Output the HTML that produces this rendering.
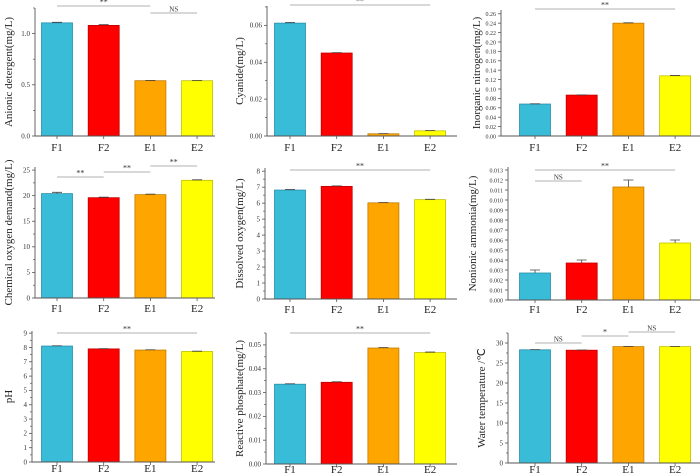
<!DOCTYPE html>
<html><head><meta charset="utf-8">
<style>
html,body{margin:0;padding:0;background:#fff;}
svg{display:block;font-family:"Liberation Serif",serif;}
</style></head>
<body>
<svg id="chart" width="700" height="474" viewBox="0 0 700 474" xmlns="http://www.w3.org/2000/svg"></svg>
<script>
const categories = ["F1","F2","E1","E2"];
const barColors = ["#38bcd8","#ff0000","#ffa500","#ffff00"];
const borderColors = ["#2a8fa8","#c00000","#c07c00","#c0c000"];

const anionicValues = [1.105, 1.08, 0.54, 0.54];
const anionicErrors = [0.005, 0.008, 0.003, 0.003];
const anionicTicks = ["0.0","0.5","1.0"];

const cyanideValues = [0.0612, 0.0450, 0.0012, 0.0028];
const cyanideErrors = [0.0004, 0.0002, 0.0001, 0.0002];
const cyanideTicks = ["0.00","0.02","0.04","0.06"];

const nitrogenValues = [0.068, 0.087, 0.240, 0.128];
const nitrogenErrors = [0.0005, 0.0005, 0.0008, 0.0008];
const nitrogenTicks = ["0.00","0.02","0.04","0.06","0.08","0.10","0.12","0.14","0.16","0.18","0.20","0.22","0.24","0.26"];

const codValues = [20.4, 19.6, 20.2, 23.0];
const codErrors = [0.25, 0.1, 0.1, 0.1];
const codTicks = ["0","5","10","15","20","25"];

const doValues = [6.82, 7.05, 6.02, 6.22];
const doErrors = [0.03, 0.03, 0.02, 0.02];
const doTicks = ["0","1","2","3","4","5","6","7","8"];

const ammoniaValues = [0.0027, 0.0037, 0.0113, 0.0057];
const ammoniaErrors = [0.0003, 0.0003, 0.0007, 0.0003];
const ammoniaTicks = ["0.000","0.001","0.002","0.003","0.004","0.005","0.006","0.007","0.008","0.009","0.010","0.011","0.012","0.013"];

const phValues = [8.1, 7.9, 7.82, 7.72];
const phErrors = [0.02, 0.02, 0.02, 0.02];
const phTicks = ["0","1","2","3","4","5","6","7","8","9"];

const phosphateValues = [0.0335, 0.0343, 0.0487, 0.0468];
const phosphateErrors = [0.0002, 0.0002, 0.0002, 0.0002];
const phosphateTicks = ["0.00","0.01","0.02","0.03","0.04","0.05"];

const tempValues = [28.3, 28.2, 29.1, 29.1];
const tempErrors = [0.05, 0.05, 0.05, 0.05];
const tempTicks = ["0","5","10","15","20","25","30"];

const svg = document.getElementById('chart');
const NS = 'http://www.w3.org/2000/svg';
function mk(tag, attrs, parent){
  const e = document.createElementNS(NS, tag);
  for (const k in attrs) e.setAttribute(k, attrs[k]);
  parent.appendChild(e);
  return e;
}

const panels = [
  {key:'anionic', vals:anionicValues, errs:anionicErrors, ticks:anionicTicks, ax:35, by:136, ty:8, ex:215, c0:57, max:1.25, step:0.5, minor:2, title:'Anionic detergent(mg/L)', tx:9, lo:15, tf:7,
   sig:[[0,2,'**',6],[2,3,'NS',13]]},
  {key:'cyanide', vals:cyanideValues, errs:cyanideErrors, ticks:cyanideTicks, ax:267, by:136, ty:6, ex:457, c0:290, max:0.0705, step:0.02, minor:2, title:'Cyanide(mg/L)', tx:240, lo:15, tf:7,
   sig:[[0,3,'**',5]]},
  {key:'nitrogen', vals:nitrogenValues, errs:nitrogenErrors, ticks:nitrogenTicks, ax:501, by:136, ty:10, ex:700, c0:535, max:0.268, step:0.02, minor:1, title:'Inorganic nitrogen(mg/L)', tx:477, lo:15, tf:6,
   sig:[[0,3,'**',9]]},
  {key:'cod', vals:codValues, errs:codErrors, ticks:codTicks, ax:35, by:298, ty:167, ex:215, c0:57, max:25.6, step:5, minor:2, title:'Chemical oxygen demand(mg/L)', tx:9, lo:14, tf:7,
   sig:[[0,1,'**',177],[1,2,'**',172],[2,3,'**',166]]},
  {key:'do', vals:doValues, errs:doErrors, ticks:doTicks, ax:265, by:299, ty:168, ex:457, c0:290, max:8.2, step:1, minor:2, title:'Dissolved oxygen(mg/L)', tx:240, lo:14, tf:7,
   sig:[[0,3,'**',170]]},
  {key:'ammonia', vals:ammoniaValues, errs:ammoniaErrors, ticks:ammoniaTicks, ax:508, by:300, ty:167, ex:700, c0:535, max:0.0133, step:0.001, minor:1, title:'Nonionic ammonia(mg/L)', tx:473, lo:13, tf:6,
   sig:[[0,3,'**',170],[0,1,'NS',181]]},
  {key:'ph', vals:phValues, errs:phErrors, ticks:phTicks, ax:32, by:462, ty:331, ex:215, c0:57, max:9.15, step:1, minor:2, title:'pH', tx:9, lo:10, tf:7,
   sig:[[0,3,'**',333]]},
  {key:'phosphate', vals:phosphateValues, errs:phosphateErrors, ticks:phosphateTicks, ax:266, by:464, ty:333, ex:457, c0:290, max:0.055, step:0.01, minor:2, title:'Reactive phosphate(mg/L)', tx:240, lo:9, tf:7,
   sig:[[0,3,'**',333]]},
  {key:'temp', vals:tempValues, errs:tempErrors, ticks:tempTicks, ax:508, by:463, ty:333, ex:700, c0:535, max:32.5, step:5, minor:2, title:'Water temperature /\u2103', tx:482, lo:10, tf:7,
   sig:[[0,1,'NS',343],[1,2,'*',336],[2,3,'NS',332]]}
];

const spacing = 46.7, bw = 31;
panels.forEach(p => {
  const g = mk('g', {}, svg);
  
  
  const y = v => p.by - (v / p.max) * (p.by - p.ty);
  const x = i => p.c0 + i * spacing;
  p.vals.forEach((v, i) => {
    const r = mk('rect', {x: x(i) - bw/2, y: y(v), width: bw, height: p.by - y(v), fill: barColors[i], stroke: borderColors[i], 'stroke-width': 0.8}, g);
    
    
    const e = p.errs[i];
    const eb = mk('path', {d: `M${x(i)} ${y(v)} V${y(v+e)} M${x(i)-5} ${y(v+e)} H${x(i)+5}`, stroke: '#444', 'stroke-width': 0.8, fill: 'none'}, g);
    
    
    const t = mk('text', {x: x(i), y: p.by + p.lo, 'text-anchor': 'middle', 'font-size': 11, fill: '#222'}, g);
    t.textContent = categories[i];
    
    
    mk('line', {x1: x(i), x2: x(i), y1: p.by, y2: p.by + 3, stroke: '#555', 'stroke-width': 0.8}, g);
  });
  const ax = mk('path', {d: `M${p.ax} ${p.ty} V${p.by} H${p.ex}`, stroke: '#555', 'stroke-width': 0.9, fill: 'none'}, g);
  
  
  p.ticks.forEach((lab, k) => {
    const v = k * p.step, ty = y(v);
    mk('line', {x1: p.ax - 3, x2: p.ax, y1: ty, y2: ty, stroke: '#555', 'stroke-width': 0.8}, g);
    if (p.minor > 1) {
      const mv = v + p.step / 2;
      if (mv <= p.max) mk('line', {x1: p.ax - 2, x2: p.ax, y1: y(mv), y2: y(mv), stroke: '#555', 'stroke-width': 0.7}, g);
    }
    const t = mk('text', {x: p.ax - 5, y: ty + 2.3, 'text-anchor': 'end', 'font-size': p.tf, fill: '#333'}, g);
    t.textContent = lab;
    
    
  });
  const cy = (p.ty + p.by) / 2;
  const tt = mk('text', {x: p.tx, y: cy, 'text-anchor': 'middle', 'font-size': 11, fill: '#222', transform: `rotate(-90 ${p.tx} ${cy})`, 'dominant-baseline': 'central'}, g);
  tt.textContent = p.title;
  
  
  p.sig.forEach(s => {
    const l = mk('line', {x1: x(s[0]), x2: x(s[1]), y1: s[3], y2: s[3], stroke: '#999', 'stroke-width': 0.8}, g);
    
    
    const t = mk('text', {x: (x(s[0]) + x(s[1])) / 2, y: s[3] - 1.5, 'text-anchor': 'middle', 'font-size': s[2] === 'NS' ? 7 : 8, fill: '#333'}, g);
    t.textContent = s[2];
    
    
  });
});
</script>
</body></html>
